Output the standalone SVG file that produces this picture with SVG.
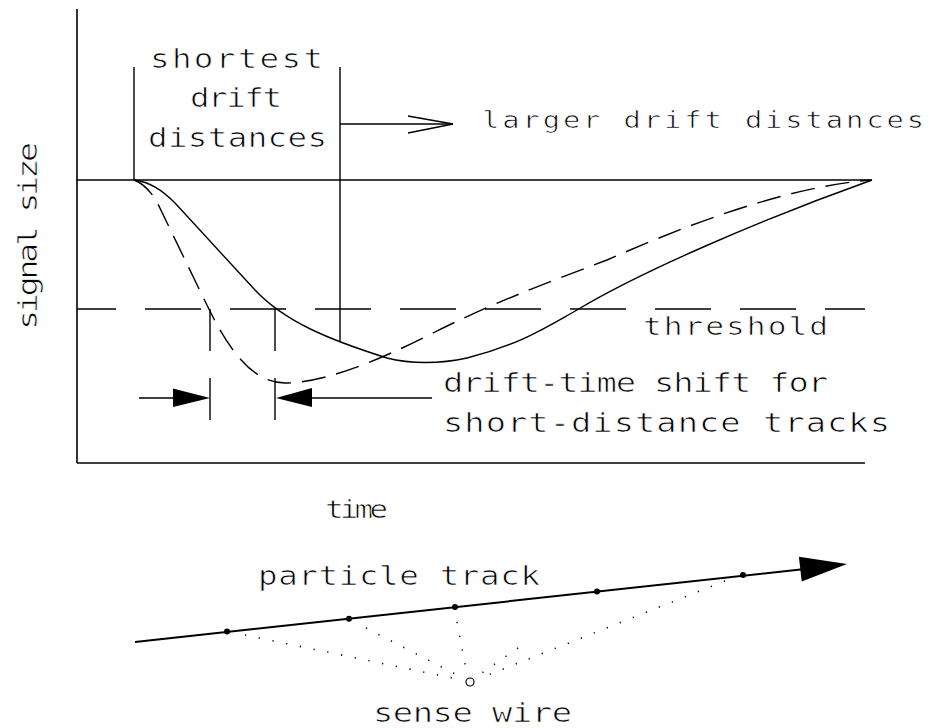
<svg xmlns="http://www.w3.org/2000/svg" width="929" height="728" viewBox="0 0 929 728">
  <style>
    .ln { stroke: #000; stroke-width: 1.4; fill: none; }
    .ax { stroke: #000; stroke-width: 1.6; fill: none; }
    .dsh { stroke: #000; stroke-width: 1.4; fill: none; stroke-dasharray: 24 11; }
    .thr { stroke: #000; stroke-width: 1.5; fill: none; stroke-dasharray: 56 29; stroke-dashoffset: 17; }
    .dot { stroke: #000; stroke-width: 1.6; fill: none; stroke-dasharray: 1.2 12.8; }
    .t { font-family: "DejaVu Sans Mono", "Liberation Mono", monospace; fill: #000; stroke: #fff; stroke-width: 0.7; }
  </style>

  <g id="axes">
    <line class="ax" x1="77" y1="9" x2="77" y2="463"/>
    <line class="ax" x1="77" y1="463" x2="865" y2="463"/>
    <line class="ln" x1="77" y1="180" x2="872" y2="180"/>
    <line class="thr" x1="77" y1="309" x2="865" y2="309"/>
  </g>

  <g id="curves">
    <path id="solid-curve" class="ln" d="M134,180 C150,182 162,190 175,203 L255,290 C285,322 330,340 387,358 C410,364 440,364 467,358 C520,345 550,325 577,310 C640,272 760,220 872,180"/>
    <path id="dashed-curve" class="dsh" d="M134,180 C142,183 150,190 157,202 L203,297 C220,332 245,383 285,383 C320,383 370,365 433,333 C496,301 560,278 607,260 C680,228 780,188 870,180"/>
  </g>

  <g id="box-label">
    <line class="ln" x1="134" y1="67" x2="134" y2="180"/>
    <line class="ln" x1="340" y1="67" x2="340" y2="342"/>
    <text class="t" transform="translate(150,68) scale(1.25,1)" font-size="26" textLength="138.4" lengthAdjust="spacing">shortest</text>
    <text class="t" transform="translate(190,107) scale(1.25,1)" font-size="26" textLength="73.6" lengthAdjust="spacing">drift</text>
    <text class="t" transform="translate(148,147) scale(1.25,1)" font-size="26" textLength="143.2" lengthAdjust="spacing">distances</text>
  </g>

  <g id="larger-label">
    <line class="ln" x1="340" y1="124" x2="453" y2="124"/>
    <polyline class="ln" points="408,116 453,124 408,133"/>
    <text class="t" transform="translate(482,128) scale(1.25,1)" font-size="23" textLength="353.6" lengthAdjust="spacing">larger drift distances</text>
  </g>

  <g id="threshold-label">
    <text class="t" transform="translate(643,335) scale(1.25,1)" font-size="25" textLength="148" lengthAdjust="spacing">threshold</text>
  </g>

  <g id="shift-marker">
    <line class="ln" x1="210" y1="309" x2="210" y2="351"/>
    <line class="ln" x1="210" y1="378" x2="210" y2="420"/>
    <line class="ln" x1="275" y1="309" x2="275" y2="351"/>
    <line class="ln" x1="275" y1="378" x2="275" y2="420"/>
    <line class="ln" x1="139" y1="398" x2="175" y2="398"/>
    <polygon points="173,388.5 210,398 173,407" fill="#000"/>
    <line class="ln" x1="310" y1="398" x2="432" y2="398"/>
    <polygon points="312,388 276,398 312,407" fill="#000"/>
    <text class="t" transform="translate(443,392) scale(1.25,1)" font-size="27" textLength="308" lengthAdjust="spacing">drift-time shift for</text>
    <text class="t" transform="translate(443,432) scale(1.25,1)" font-size="27" textLength="357.6" lengthAdjust="spacing">short-distance tracks</text>
  </g>

  <g id="axis-labels">
    <text class="t" transform="translate(325,518) scale(1.25,1)" font-size="25" textLength="50.4" lengthAdjust="spacing">time</text>
    <text class="t" transform="translate(37,330) rotate(-90) scale(1.25,1)" font-size="27" textLength="150.4" lengthAdjust="spacing">signal size</text>
  </g>

  <g id="particle-track">
    <line x1="135" y1="642" x2="805" y2="569" stroke="#000" stroke-width="2"/>
    <polygon points="798.9,556.7 847,564 801.7,581.5" fill="#000"/>
    <circle cx="227" cy="631.5" r="3" fill="#000"/>
    <circle cx="349" cy="618.7" r="3" fill="#000"/>
    <circle cx="455" cy="607" r="3" fill="#000"/>
    <circle cx="597" cy="591.5" r="3" fill="#000"/>
    <circle cx="743" cy="575" r="3" fill="#000"/>
    <text class="t" transform="translate(258,585) scale(1.25,1)" font-size="26" textLength="225.6" lengthAdjust="spacing">particle track</text>
  </g>

  <g id="sense-wire">
    <circle cx="470" cy="682" r="4" fill="none" stroke="#000" stroke-width="1.2"/>
    <text class="t" transform="translate(373,722) scale(1.25,1)" font-size="27" textLength="159.2" lengthAdjust="spacing">sense wire</text>
  </g>

  <g id="connectors">
    <line class="dot" x1="245" y1="635" x2="462" y2="680"/>
    <line class="dot" x1="366" y1="628" x2="463" y2="678"/>
    <line class="dot" x1="457" y1="622" x2="467" y2="675"/>
    <line class="dot" x1="518" y1="648" x2="476" y2="677"/>
    <line class="dot" x1="725" y1="581" x2="478" y2="679"/>
  </g>
</svg>
